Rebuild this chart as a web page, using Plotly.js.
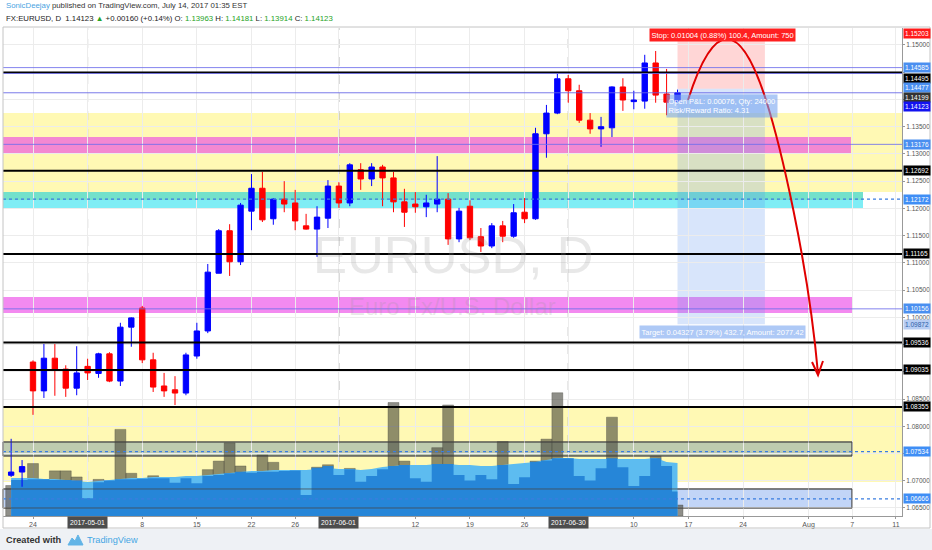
<!DOCTYPE html>
<html><head><meta charset="utf-8">
<script src="https://cdn.plot.ly/plotly-3.0.1.min.js"></script>
<style>html,body{margin:0;padding:0;background:#fff}#chart{width:932px;height:550px}</style>
</head><body><div id="chart"></div>
<script>
// ---------- DATA ----------
const dates = ['2017-04-20','2017-04-21','2017-04-24','2017-04-25','2017-04-26','2017-04-27','2017-04-28',
'2017-05-01','2017-05-02','2017-05-03','2017-05-04','2017-05-05','2017-05-08','2017-05-09','2017-05-10','2017-05-11','2017-05-12','2017-05-15','2017-05-16','2017-05-17','2017-05-18','2017-05-19','2017-05-22','2017-05-23','2017-05-24','2017-05-25','2017-05-26','2017-05-29','2017-05-30','2017-05-31',
'2017-06-01','2017-06-02','2017-06-05','2017-06-06','2017-06-07','2017-06-08','2017-06-09','2017-06-12','2017-06-13','2017-06-14','2017-06-15','2017-06-16','2017-06-19','2017-06-20','2017-06-21','2017-06-22','2017-06-23','2017-06-26','2017-06-27','2017-06-28','2017-06-29','2017-06-30',
'2017-07-03','2017-07-04','2017-07-05','2017-07-06','2017-07-07','2017-07-10','2017-07-11','2017-07-12','2017-07-13','2017-07-14'];
const open = [1.0710,1.0716,1.0918,1.0865,1.0925,1.0905,1.0870,
1.0910,1.0897,1.0933,1.0883,1.0982,1.1017,1.0922,1.0874,1.0867,1.0861,1.0929,1.0975,1.1081,1.1159,1.1102,1.1195,1.1237,1.1181,1.1217,1.1210,1.1168,1.1162,1.1182,
1.1241,1.1210,1.1271,1.1254,1.1276,1.1256,1.1212,1.1208,1.1203,1.1208,1.1217,1.1144,1.1204,1.1148,1.1131,1.1168,1.1149,1.1193,1.1181,1.1337,1.1375,1.1438,
1.1416,1.1362,1.1346,1.1348,1.1423,1.1396,1.1397,1.1467,1.1410,1.13963];
const high = [1.0777,1.0738,1.0921,1.0951,1.0951,1.0912,1.0947,
1.0924,1.0935,1.0936,1.0990,1.1000,1.1021,1.0935,1.0898,1.0892,1.0935,1.0990,1.1098,1.1162,1.1171,1.1210,1.1263,1.1267,1.1219,1.1250,1.1234,1.1190,1.1204,1.1252,
1.1248,1.1283,1.1283,1.1283,1.1280,1.1267,1.1236,1.1230,1.1225,1.1296,1.1228,1.1201,1.1215,1.1164,1.1173,1.1177,1.1208,1.1219,1.1348,1.1390,1.1447,1.1445,
1.1427,1.1375,1.1368,1.1424,1.1439,1.1416,1.1482,1.1489,1.1456,1.14181];
const low = [1.0707,1.0689,1.0821,1.0852,1.0856,1.0854,1.0857,
1.0885,1.0889,1.0881,1.0874,1.0946,1.0916,1.0863,1.0854,1.0839,1.0857,1.0924,1.0971,1.1081,1.1076,1.1096,1.1160,1.1175,1.1170,1.1193,1.1160,1.1161,1.1111,1.1164,
1.1201,1.1204,1.1234,1.1241,1.1204,1.1193,1.1166,1.1192,1.1184,1.1193,1.1133,1.1138,1.1142,1.1120,1.1127,1.1138,1.1146,1.1173,1.1179,1.1293,1.1373,1.1394,
1.1357,1.1337,1.1313,1.1331,1.1379,1.1382,1.1383,1.1394,1.1371,1.13914];
const close = [1.0716,1.0726,1.0865,1.0925,1.0903,1.0870,1.0898,
1.0898,1.0933,1.0883,1.0982,1.0999,1.0922,1.0872,1.0865,1.0861,1.0931,1.0975,1.1083,1.1159,1.1102,1.1206,1.1237,1.1179,1.1217,1.1208,1.1177,1.1162,1.1184,1.1241,
1.1210,1.1280,1.1254,1.1276,1.1256,1.1212,1.1193,1.1203,1.1210,1.1217,1.1144,1.1195,1.1146,1.1131,1.1168,1.1149,1.1192,1.1181,1.1337,1.1375,1.1438,1.1416,
1.1362,1.1346,1.1350,1.1423,1.1399,1.1399,1.1467,1.1408,1.1395,1.14123];
const volume = [25,27,43,28,37,37,32,
21,30,27,71,35,30,33,28,28,25,23,38,45,60,41,34,50,44,34,31,17,40,42,
34,39,25,31,39,93,45,31,27,56,91,34,28,33,31,61,24,34,45,63,101,46,
31,28,38,81,39,21,34,49,41,9];
const volAvg = [31.2,31.2,31.2,30.3,30.3,29.5,28.7,
27.9,28.7,29.5,30.3,31.2,31.2,32,32,32,32.8,32.8,33.6,34.4,35.3,36.1,36.9,36.9,37.7,37.7,37.7,37.7,38.5,39.4,
38.5,38.5,37.7,38.5,40.2,41,41.8,41.8,41.8,42.6,42.6,41.8,41.8,41,41,41.8,42.6,43.5,44.3,45.9,47.6,47.6,
46.7,46.7,46.7,46.7,46.7,46.7,46.7,47.6,44.3,43.5];
const volDark = [29.5,29.5,30.1,30.1,29.5,29.5,29,
14.5,27.6,29,30.1,30.1,30.6,30.9,30.9,27.3,30.9,26.8,32.8,33.6,35,36.3,35.5,36.3,36.3,36.9,37.2,17.2,39.6,41,
33.6,38.3,28.1,32.8,38.3,41,41.8,30.9,28.1,42.6,42.6,33.6,29,33.6,30.1,41.8,26.2,31.7,44.5,45.4,47.3,47.3,
32.8,29,39.1,47.3,39.9,24.6,32.8,47.3,41,20];

const xTickDates = ['2017-04-24','2017-05-08','2017-05-15','2017-05-22','2017-05-26','2017-06-12','2017-06-19','2017-06-26','2017-07-10','2017-07-17','2017-07-24','2017-08-01','2017-08-07','2017-08-11'];
const xTickLabels = ['24','8','15','22','26','12','19','26','10','17','24','Aug','7','11'];
const monthDates = ['2017-05-01','2017-06-01','2017-06-30'];
const monthLabels = ['2017-05-01','2017-06-01','2017-06-30'];
const priceTicks = [1.065,1.07,1.075,1.08,1.085,1.09,1.095,1.10,1.105,1.11,1.115,1.12,1.125,1.13,1.135,1.14,1.145,1.15];
const priceTickLabels = ['1.06500','1.07000','','1.08000','1.08500','','','1.10000','1.10500','1.11000','1.11500','1.12000','1.12500','1.13000','1.13500','','','1.15000'];

// drawn levels
const levelValues = [1.15203,1.14585,1.14495,1.14477,1.14199,1.14123,1.13176,1.12692,1.12172,1.11165,1.10156,1.09872,1.09536,1.09035,1.08355,1.07534,1.06666];
const levelKinds  = ['stop','blue','black','blue','gray','cur','blue','black','dotb','black','blue','tgt','black','black','black','dotb','dotb'];
const levelShift  = [0,0,-6,-14,-9,-14,0,0,0,0,0,0,0,0,0,0,0];

// zones [low, high]
const zoneYellowTop = [1.12301,1.13752];
const zoneCyanA = [1.12154,1.12301];
const zoneCyanB = [1.12008,1.12154];
const zonePinkTop = [1.13017,1.13311];
const zonePinkLow = [1.10080,1.10373];
const zoneYellowLow = [1.06978,1.08372];
const boxGray = [1.07455,1.07712];
const boxBlue = [1.06500,1.06849];
const position = {start:'2017-07-14', end:'2017-07-26', entry:1.14199, stop:1.15203, target:1.09872};

// ---------- LAYOUT HELPERS ----------
const FN = '"Liberation Sans",Arial,sans-serif';
const W=932,H=550,ML=3,MR=30,MT=28,MB=34,PW=W-ML-MR,PH=H-MT-MB;
const px = x => (x-ML)/PW;
const py = y => (H-MB-y)/PH;
const X = d => d + ' 12:00';
const xs = dates.map(X);

const traces = [
  {type:'bar', x:xs, y:volume, yaxis:'y', marker:{color:'rgba(62,62,52,0.58)', line:{color:'rgba(70,70,60,0.7)', width:0.5}}, hoverinfo:'skip'},
  {type:'scatter', mode:'lines', x:xs, y:volAvg, yaxis:'y', fill:'tozeroy', fillcolor:'#5dbcf0', line:{color:'#5dbcf0', width:0}, hoverinfo:'skip'},
  {type:'scatter', mode:'lines', x:xs, y:volDark, yaxis:'y', fill:'tozeroy', fillcolor:'rgba(34,130,214,0.93)', line:{color:'rgba(34,130,214,0.93)', width:0, shape:'hvh'}, hoverinfo:'skip'},
  {type:'candlestick', x:xs, open:open, high:high, low:low, close:close, yaxis:'y2', whiskerwidth:0,
   increasing:{line:{color:'#0000ff', width:1}, fillcolor:'#0000ff'},
   decreasing:{line:{color:'#ff0000', width:1}, fillcolor:'#ff0000'}, hoverinfo:'skip'}
];

const shapes = [];
function zone(z, x1, fill, line){
  shapes.push({type:'rect', layer:'below', xref:'paper', x0:0, x1:x1, yref:'y2', y0:z[0], y1:z[1], fillcolor:fill, line:{width:line?1:0, color:line||'rgba(0,0,0,0)'}});
}
zone(zoneYellowTop, 1, 'rgba(255,244,105,0.5)');
zone(zoneCyanA, px(863), 'rgba(0,200,160,0.55)');
zone(zoneCyanB, px(863), 'rgba(0,220,235,0.5)');
zone(zonePinkTop, px(851), 'rgba(235,60,230,0.6)');
zone(zonePinkLow, px(852), 'rgba(235,60,230,0.6)');
zone(zoneYellowLow, 1, 'rgba(255,244,105,0.5)');
zone(boxGray, px(852), 'rgba(100,140,170,0.42)', '#555');
zone(boxBlue, px(852), 'rgba(110,155,235,0.42)', '#555');
monthDates.forEach(d => shapes.push({type:'line', layer:'below', xref:'x', x0:X(d), x1:X(d), yref:'paper', y0:0, y1:1, line:{color:'#9a9a9a', width:1, dash:'dash'}}));
// position tool
shapes.push({type:'rect', layer:'below', xref:'x', x0:X(position.start), x1:X(position.end), yref:'y2', y0:position.entry, y1:position.stop, fillcolor:'rgba(255,90,90,0.25)', line:{width:0}});
shapes.push({type:'rect', layer:'below', xref:'x', x0:X(position.start), x1:X(position.end), yref:'y2', y0:position.target, y1:position.entry, fillcolor:'rgba(100,150,240,0.25)', line:{width:0}});
// box borders over volume
[boxGray, boxBlue].forEach(z => shapes.push({type:'rect', layer:'above', xref:'paper', x0:0, x1:px(852), yref:'y2', y0:z[0], y1:z[1], line:{color:'rgba(70,70,70,0.75)', width:1}}));
// level lines
const lineStyle = {
  black:{color:'#000', width:2},
  blue:{color:'rgba(110,110,235,0.85)', width:1},
  cur:{color:'rgba(100,100,230,0.85)', width:1},
  dotb:{color:'#3a7de0', width:1.3, dash:'dot'}
};
levelValues.forEach((v,i) => {
  const st = lineStyle[levelKinds[i]];
  if(!st) return;
  shapes.push({type:'line', layer:'above', xref:'paper', x0:0, x1:1, yref:'y2', y0:v, y1:v, line:st});
});
// arrow
const P = (x,y) => px(x).toFixed(4)+','+py(y).toFixed(4);
shapes.push({type:'path', layer:'above', xref:'paper', yref:'paper',
  path:'M'+P(688,100)+' Q'+P(727,-22)+' '+P(766,100)+' C'+P(780,144)+' '+P(808,260)+' '+P(818,374),
  line:{color:'#e00000', width:2}});
shapes.push({type:'path', layer:'above', xref:'paper', yref:'paper',
  path:'M'+P(812,362)+' L'+P(818,375)+' L'+P(823,361), line:{color:'#e00000', width:2}});
// footer background and chart border
shapes.push({type:'rect', layer:'below', xref:'paper', yref:'paper', x0:px(0), x1:px(932), y0:py(529), y1:py(551), fillcolor:'#eef1f5', line:{width:0}});
shapes.push({type:'rect', layer:'above', xref:'paper', yref:'paper', x0:px(3), x1:px(930), y0:py(27), y1:py(528), line:{color:'#c4c4c4', width:1}});
// logo
shapes.push({type:'path', layer:'above', xref:'paper', yref:'paper',
  path:'M'+P(68,545)+' L'+P(72,538)+' L'+P(75,541)+' L'+P(78,535)+' L'+P(83,545)+' Z', fillcolor:'#62b4e6', line:{color:'#62b4e6', width:1}});

const annotations = [];
const labelStyle = {
  stop:{bg:'#ff1a1a', fc:'#fff'}, blue:{bg:'#4a8ff0', fc:'#fff'}, black:{bg:'#000', fc:'#fff'},
  gray:{bg:'#333', fc:'#fff'}, cur:{bg:'#1212f0', fc:'#fff'}, dotb:{bg:'#3f8ef5', fc:'#fff'},
  tgt:{bg:'#b7cdf3', fc:'#2d5fa8'}
};
levelValues.forEach((v,i) => {
  const st = labelStyle[levelKinds[i]];
  annotations.push({xref:'paper', x:1, xanchor:'left', xshift:1, yref:'y2', y:v, yanchor:'middle', yshift:levelShift[i],
    text:v.toFixed(5), showarrow:false, bgcolor:st.bg, borderpad:1, font:{family:FN, size:6.5, color:st.fc}});
});
monthDates.forEach((d,i) => annotations.push({xref:'x', x:X(d), xanchor:'center', yref:'paper', y:py(522), yanchor:'middle',
  text:monthLabels[i], showarrow:false, bgcolor:'#4d4d4d', borderpad:2, font:{family:FN, size:6.8, color:'#fff'}}));
// header / footer
annotations.push({xref:'paper', yref:'paper', x:px(4), y:py(6), xanchor:'left', yanchor:'middle', showarrow:false,
  text:'<span style="color:#4aa3df">SonicDeejay</span> published on TradingView.com, July 14, 2017 01:35 EST', font:{family:FN, size:7.8, color:'#333'}});
const G = s => '<span style="color:#26a326">'+s+'</span>';
annotations.push({xref:'paper', yref:'paper', x:px(4), y:py(18), xanchor:'left', yanchor:'middle', showarrow:false,
  text:'FX:EURUSD, D  1.14123 '+G('▲')+' +0.00160 (+0.14%) O: '+G('1.13963')+' H: '+G('1.14181')+' L: '+G('1.13914')+' C: '+G('1.14123'),
  font:{family:FN, size:7.8, color:'#222'}});
annotations.push({xref:'paper', yref:'paper', x:px(4), y:py(540), xanchor:'left', yanchor:'middle', showarrow:false,
  text:'<b>Created with</b>', font:{family:FN, size:9.2, color:'#333'}});
annotations.push({xref:'paper', yref:'paper', x:px(85), y:py(540), xanchor:'left', yanchor:'middle', showarrow:false,
  text:'TradingView', font:{family:FN, size:9.2, color:'#43a6e4'}});
// watermark
annotations.push({xref:'paper', yref:'paper', x:px(453), xanchor:'center', y:py(255), showarrow:false, text:'EURUSD, D',
  font:{family:FN, size:51, color:'rgba(150,150,150,0.22)'}});
annotations.push({xref:'paper', yref:'paper', x:px(452), xanchor:'center', y:py(306), showarrow:false, text:'Euro Fx/U.S. Dollar',
  font:{family:FN, size:24, color:'rgba(150,150,150,0.22)'}});
// position labels
annotations.push({xref:'paper', yref:'paper', x:px(722), xanchor:'center', y:py(28), showarrow:false, text:'Stop: 0.01004 (0.88%) 100.4, Amount: 750',
  bgcolor:'#ff2020', borderpad:1.5, font:{family:FN, size:7.5, color:'#fff'}});
annotations.push({xref:'paper', yref:'paper', x:px(722), xanchor:'center', y:py(93.5), showarrow:false, align:'left',
  text:'Open P&L: 0.00076, Qty: 24000<br>Risk/Reward Ratio: 4.31', bgcolor:'rgba(120,165,240,0.6)', borderpad:1.5, font:{family:FN, size:7.5, color:'#fff'}});
annotations.push({xref:'paper', yref:'paper', x:px(722), xanchor:'center', y:py(332), showarrow:false,
  text:'Target: 0.04327 (3.79%) 432.7, Amount: 2077.42', bgcolor:'rgba(120,165,240,0.6)', borderpad:1.5, font:{family:FN, size:7.5, color:'#fff'}});

const layout = {
  width:W, height:H, margin:{l:ML, r:MR, t:MT, b:MB, pad:0},
  paper_bgcolor:'#ffffff', plot_bgcolor:'#ffffff', showlegend:false,
  barmode:'overlay', bargap:0,
  font:{family:FN, size:7, color:'#444'},
  xaxis:{type:'date', range:['2017-04-19 18:06','2017-08-14 01:12'], rangebreaks:[{bounds:['sat','mon']}],
    rangeslider:{visible:false}, tickvals:xTickDates.map(X).concat(monthDates.map(X)), ticktext:xTickLabels.concat(monthDates.map(()=>'')),
    showgrid:true, gridcolor:'#ececec', ticks:'outside', ticklen:2, tickcolor:'#999', showline:true, linecolor:'#999',
    tickfont:{family:FN, size:7, color:'#555'}, zeroline:false, fixedrange:true},
  yaxis:{range:[0,400], visible:false, fixedrange:true},
  yaxis2:{overlaying:'y', side:'right', anchor:'x', range:[1.06353,1.15312], tickvals:priceTicks, ticktext:priceTickLabels,
    showgrid:true, gridcolor:'#ececec', ticks:'outside', ticklen:2, tickcolor:'#999', showline:true, linecolor:'#999',
    tickfont:{family:FN, size:6.5, color:'#555'}, zeroline:false, fixedrange:true},
  shapes:shapes, annotations:annotations
};
Plotly.newPlot('chart', traces, layout, {displayModeBar:false, staticPlot:true});
</script></body></html>
